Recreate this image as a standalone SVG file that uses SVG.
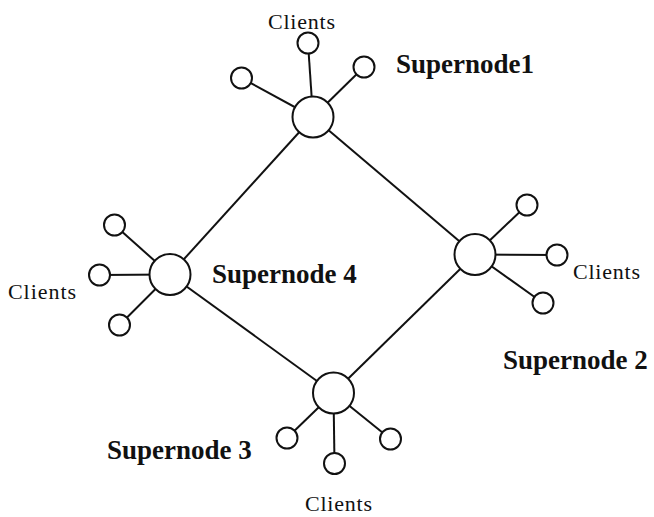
<svg xmlns="http://www.w3.org/2000/svg" width="654" height="517" viewBox="0 0 654 517">
<style>
.ln{stroke:#111;stroke-width:2;fill:none}
.sn{fill:#fff;stroke:#111;stroke-width:2}
.cl{fill:#fff;stroke:#111;stroke-width:2}
.lbl{font-family:"Liberation Serif","Times New Roman",serif;font-weight:bold;font-size:27px;fill:#111}
.ct{font-family:"Liberation Serif","Times New Roman",serif;font-size:22px;fill:#111}
</style>
<rect width="654" height="517" fill="#fff"/>
<g id="connectors">
<line class="ln" x1="313" y1="117" x2="475" y2="254.5"/>
<line class="ln" x1="475" y1="254.5" x2="333.5" y2="393"/>
<line class="ln" x1="333.5" y1="393" x2="170" y2="274.5"/>
<line class="ln" x1="170" y1="274.5" x2="313" y2="117"/>
<line class="ln" x1="313" y1="117" x2="308" y2="43"/>
<line class="ln" x1="313" y1="117" x2="241.5" y2="78"/>
<line class="ln" x1="313" y1="117" x2="364" y2="67"/>
<line class="ln" x1="475" y1="254.5" x2="527" y2="205"/>
<line class="ln" x1="475" y1="254.5" x2="557" y2="255"/>
<line class="ln" x1="475" y1="254.5" x2="543" y2="303"/>
<line class="ln" x1="170" y1="274.5" x2="114.5" y2="225"/>
<line class="ln" x1="170" y1="274.5" x2="99.5" y2="275"/>
<line class="ln" x1="170" y1="274.5" x2="119.5" y2="325"/>
<line class="ln" x1="333.5" y1="393" x2="287" y2="438"/>
<line class="ln" x1="333.5" y1="393" x2="334.5" y2="463.5"/>
<line class="ln" x1="333.5" y1="393" x2="390.5" y2="439"/>
</g>
<g id="supernode1">
<circle class="sn" cx="313" cy="117" r="20.5"/>
<circle class="cl" cx="308" cy="43" r="10.5"/>
<circle class="cl" cx="241.5" cy="78" r="10.5"/>
<circle class="cl" cx="364" cy="67" r="10.5"/>
<text class="ct" x="268" y="29" textLength="67">Clients</text>
<text class="lbl" x="396" y="73">Supernode1</text>
</g>
<g id="supernode2">
<circle class="sn" cx="475" cy="254.5" r="20.5"/>
<circle class="cl" cx="527" cy="205" r="10.5"/>
<circle class="cl" cx="557" cy="255" r="10.5"/>
<circle class="cl" cx="543" cy="303" r="10.5"/>
<text class="ct" x="573" y="279" textLength="67">Clients</text>
<text class="lbl" x="503" y="369">Supernode 2</text>
</g>
<g id="supernode3">
<circle class="sn" cx="333.5" cy="393" r="20.5"/>
<circle class="cl" cx="287" cy="438" r="10.5"/>
<circle class="cl" cx="334.5" cy="463.5" r="10.5"/>
<circle class="cl" cx="390.5" cy="439" r="10.5"/>
<text class="ct" x="305" y="511" textLength="67">Clients</text>
<text class="lbl" x="107" y="459">Supernode 3</text>
</g>
<g id="supernode4">
<circle class="sn" cx="170" cy="274.5" r="20.5"/>
<circle class="cl" cx="114.5" cy="225" r="10.5"/>
<circle class="cl" cx="99.5" cy="275" r="10.5"/>
<circle class="cl" cx="119.5" cy="325" r="10.5"/>
<text class="ct" x="8" y="299" textLength="68">Clients</text>
<text class="lbl" x="212" y="283">Supernode 4</text>
</g>
</svg>
